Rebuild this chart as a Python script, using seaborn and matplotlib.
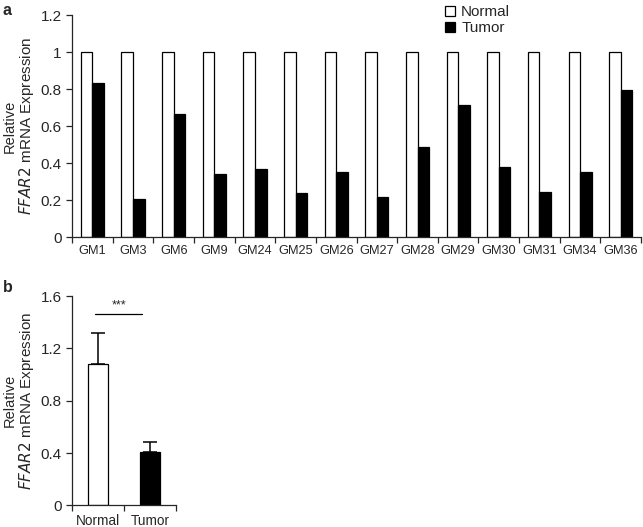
import matplotlib
matplotlib.use('Agg')
import matplotlib.pyplot as plt
import pandas as pd
import seaborn as sns
import numpy as np

# Panel a data
samples = ['GM1', 'GM3', 'GM6', 'GM9', 'GM24', 'GM25', 'GM26', 'GM27',
           'GM28', 'GM29', 'GM30', 'GM31', 'GM34', 'GM36']
normal_vals = [1] * 14
tumor_vals = [0.834, 0.205, 0.667, 0.34, 0.366, 0.236, 0.353, 0.215,
              0.486, 0.715, 0.38, 0.242, 0.353, 0.793]

# Panel b data
groups = ['Normal', 'Tumor']
group_means = [1.078, 0.407]
group_err = [0.237, 0.075]
sig_y = 1.465

sns.set_style('ticks')
plt.rcParams['font.family'] = ['Liberation Sans', 'DejaVu Sans']

df_a = pd.DataFrame({
    'sample': samples * 2,
    'group': ['Normal'] * 14 + ['Tumor'] * 14,
    'value': normal_vals + tumor_vals,
})
df_b = pd.DataFrame({'group': groups, 'value': group_means})

fig = plt.figure(figsize=(6.43, 5.27), dpi=100)
ax_a = fig.add_axes([0.112, 0.550, 0.885, 0.4215])
ax_b = fig.add_axes([0.112, 0.0412, 0.162, 0.3968])


def style_axes(ax):
    ax.tick_params(axis='x', which='major', length=0, pad=6)
    ax.tick_params(axis='x', which='minor', length=4, width=0.9)
    ax.tick_params(axis='y', length=4, width=0.9, labelsize=11)
    ax.set_xlabel('')
    ax.set_ylabel('')
    sns.despine(ax=ax)
    for s in ax.spines.values():
        s.set_linewidth(0.9)


# ---- panel a
sns.barplot(data=df_a, x='sample', y='value', hue='group', order=samples,
            palette=['white', 'black'], edgecolor='black', linewidth=0.9,
            width=0.57, errorbar=None, ax=ax_a)
ax_a.set_xlim(-0.5, 13.5)
ax_a.set_ylim(0, 1.2)
ax_a.set_yticks(np.arange(0, 1.21, 0.2))
ax_a.set_yticklabels(['0', '0.2', '0.4', '0.6', '0.8', '1', '1.2'])
ax_a.set_xticks(np.arange(-0.5, 13.6, 1), minor=True)
style_axes(ax_a)
ax_a.tick_params(axis='x', which='major', labelsize=9.2)
ax_a.legend(loc='upper left', bbox_to_anchor=(436 / 643, 1.007),
            bbox_transform=fig.transFigure, frameon=False, fontsize=11,
            handlelength=0.65, handleheight=0.65, handletextpad=0.4,
            labelspacing=0.12, borderpad=0.1)

# ---- panel b
sns.barplot(data=df_b, x='group', y='value', hue='group', order=groups,
            palette=['white', 'black'], edgecolor='black', linewidth=0.9,
            width=0.38, errorbar=None, legend=False, ax=ax_b)
ax_b.errorbar(range(len(groups)), group_means,
              yerr=[np.zeros(len(groups)), group_err], fmt='none',
              ecolor='black', elinewidth=1.1, capsize=5, capthick=1.1)
ax_b.plot([-0.05, 0.85], [sig_y, sig_y], color='black', lw=0.9)
ax_b.text(0.4, sig_y + 0.02, '***', ha='center', va='bottom', fontsize=9)
ax_b.set_xlim(-0.5, 1.5)
ax_b.set_ylim(0, 1.6)
ax_b.set_yticks([0, 0.4, 0.8, 1.2, 1.6])
ax_b.set_yticklabels(['0', '0.4', '0.8', '1.2', '1.6'])
ax_b.set_xticks([-0.5, 0.5, 1.5], minor=True)
style_axes(ax_b)
ax_b.tick_params(axis='x', which='major', labelsize=9.8)

# y labels (two lines, drawn separately)
for yc in [(237 + 15) / 2, (505 + 296) / 2]:
    yf = 1 - yc / 527
    fig.text(3 / 643, yf, 'Relative', rotation=90, ha='left',
             va='center', fontsize=10.5)
    fig.text(17 / 643, yf, '$\\it{FFAR2}$ mRNA Expression', rotation=90,
             ha='left', va='center', fontsize=11)

fig.text(0.004, 0.995, 'a', fontsize=11.5, fontweight='bold', va='top')
fig.text(0.004, 0.468, 'b', fontsize=11.5, fontweight='bold', va='top')

fig.savefig('out.png', dpi=100)
